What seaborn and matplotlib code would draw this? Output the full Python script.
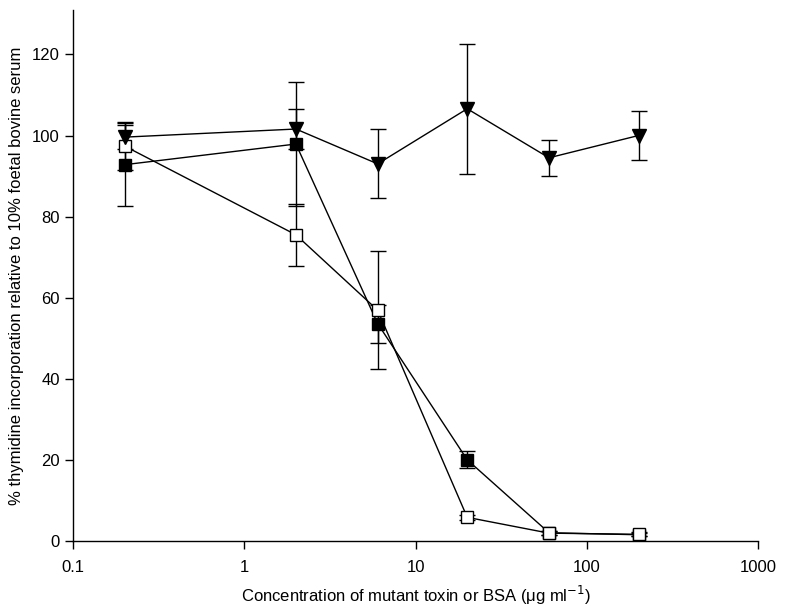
import numpy as np
import pandas as pd
import matplotlib
matplotlib.use("Agg")
import matplotlib.pyplot as plt
import seaborn as sns

conc = [0.2, 2, 6, 20, 60, 200]

# filled squares
toxin_a = [92.8, 97.9, 53.6, 20.0, 2.0, 1.5]
toxin_a_err = [10.3, 15.4, 4.7, 2.1, 0.5, 0.4]
# open squares
toxin_b = [97.4, 75.5, 56.9, 5.8, 1.9, 1.6]
toxin_b_err = [6.0, 7.7, 14.5, 0.6, 0.5, 0.5]
# filled triangles
bsa = [99.6, 101.6, 93.0, 106.6, 94.5, 100.0]
bsa_err = [3.0, 5.0, 8.5, 16.0, 4.5, 6.0]

xticks = [0.1, 1, 10, 100, 1000]
xticklabels = ["0.1", "1", "10", "100", "1000"]
yticks = [0, 20, 40, 60, 80, 100, 120]

df = pd.concat([
    pd.DataFrame({"conc": conc, "value": toxin_a, "err": toxin_a_err, "series": "Mutant toxin A"}),
    pd.DataFrame({"conc": conc, "value": toxin_b, "err": toxin_b_err, "series": "Mutant toxin B"}),
    pd.DataFrame({"conc": conc, "value": bsa, "err": bsa_err, "series": "BSA"}),
], ignore_index=True)

sns.set_style("ticks")
plt.rcParams['font.family'] = ['Liberation Sans', 'DejaVu Sans']
plt.rcParams['text.color'] = 'black'
plt.rcParams['axes.labelcolor'] = 'black'

fig = plt.figure(figsize=(7.94, 6.16), dpi=100)
ax = fig.add_axes([0.092, 0.122, 0.863, 0.862])

styles = {
    "Mutant toxin A": dict(marker="s", mfc="black", ms=8),
    "Mutant toxin B": dict(marker="s", mfc="white", ms=8),
    "BSA": dict(marker="v", mfc="black", ms=9.5),
}

for name in ["Mutant toxin A", "Mutant toxin B", "BSA"]:
    sub = df[df["series"] == name]
    ax.errorbar(sub["conc"], sub["value"], yerr=sub["err"], fmt="none",
                ecolor="black", elinewidth=1.0, capsize=6, capthick=1.0, zorder=2)
    st = styles[name]
    sns.lineplot(data=sub, x="conc", y="value", ax=ax, color="black", lw=1.0,
                 marker=st["marker"], markersize=st["ms"], markerfacecolor=st["mfc"],
                 markeredgecolor="black", markeredgewidth=1.0, zorder=3, legend=False)

ax.set_xscale("log")
ax.set_xlim(0.1, 1000)
ax.set_ylim(0, 131)
ax.set_xticks(xticks)
ax.set_xticklabels(xticklabels)
ax.xaxis.set_minor_locator(matplotlib.ticker.NullLocator())
ax.set_yticks(yticks)
ax.tick_params(axis="both", direction="out", length=6, width=1.0, labelsize=12, colors="black")
ax.tick_params(axis="x", pad=8)

sns.despine(ax=ax)
for sp in ["left", "bottom"]:
    ax.spines[sp].set_linewidth(1.0)
    ax.spines[sp].set_color("black")

ax.set_xlabel("Concentration of mutant toxin or BSA (\u03bcg ml$^{-1}$)", fontsize=12, labelpad=6)
ax.set_ylabel("% thymidine incorporation relative to 10% foetal bovine serum", fontsize=12, labelpad=6)

fig.savefig("out.png", dpi=100)
